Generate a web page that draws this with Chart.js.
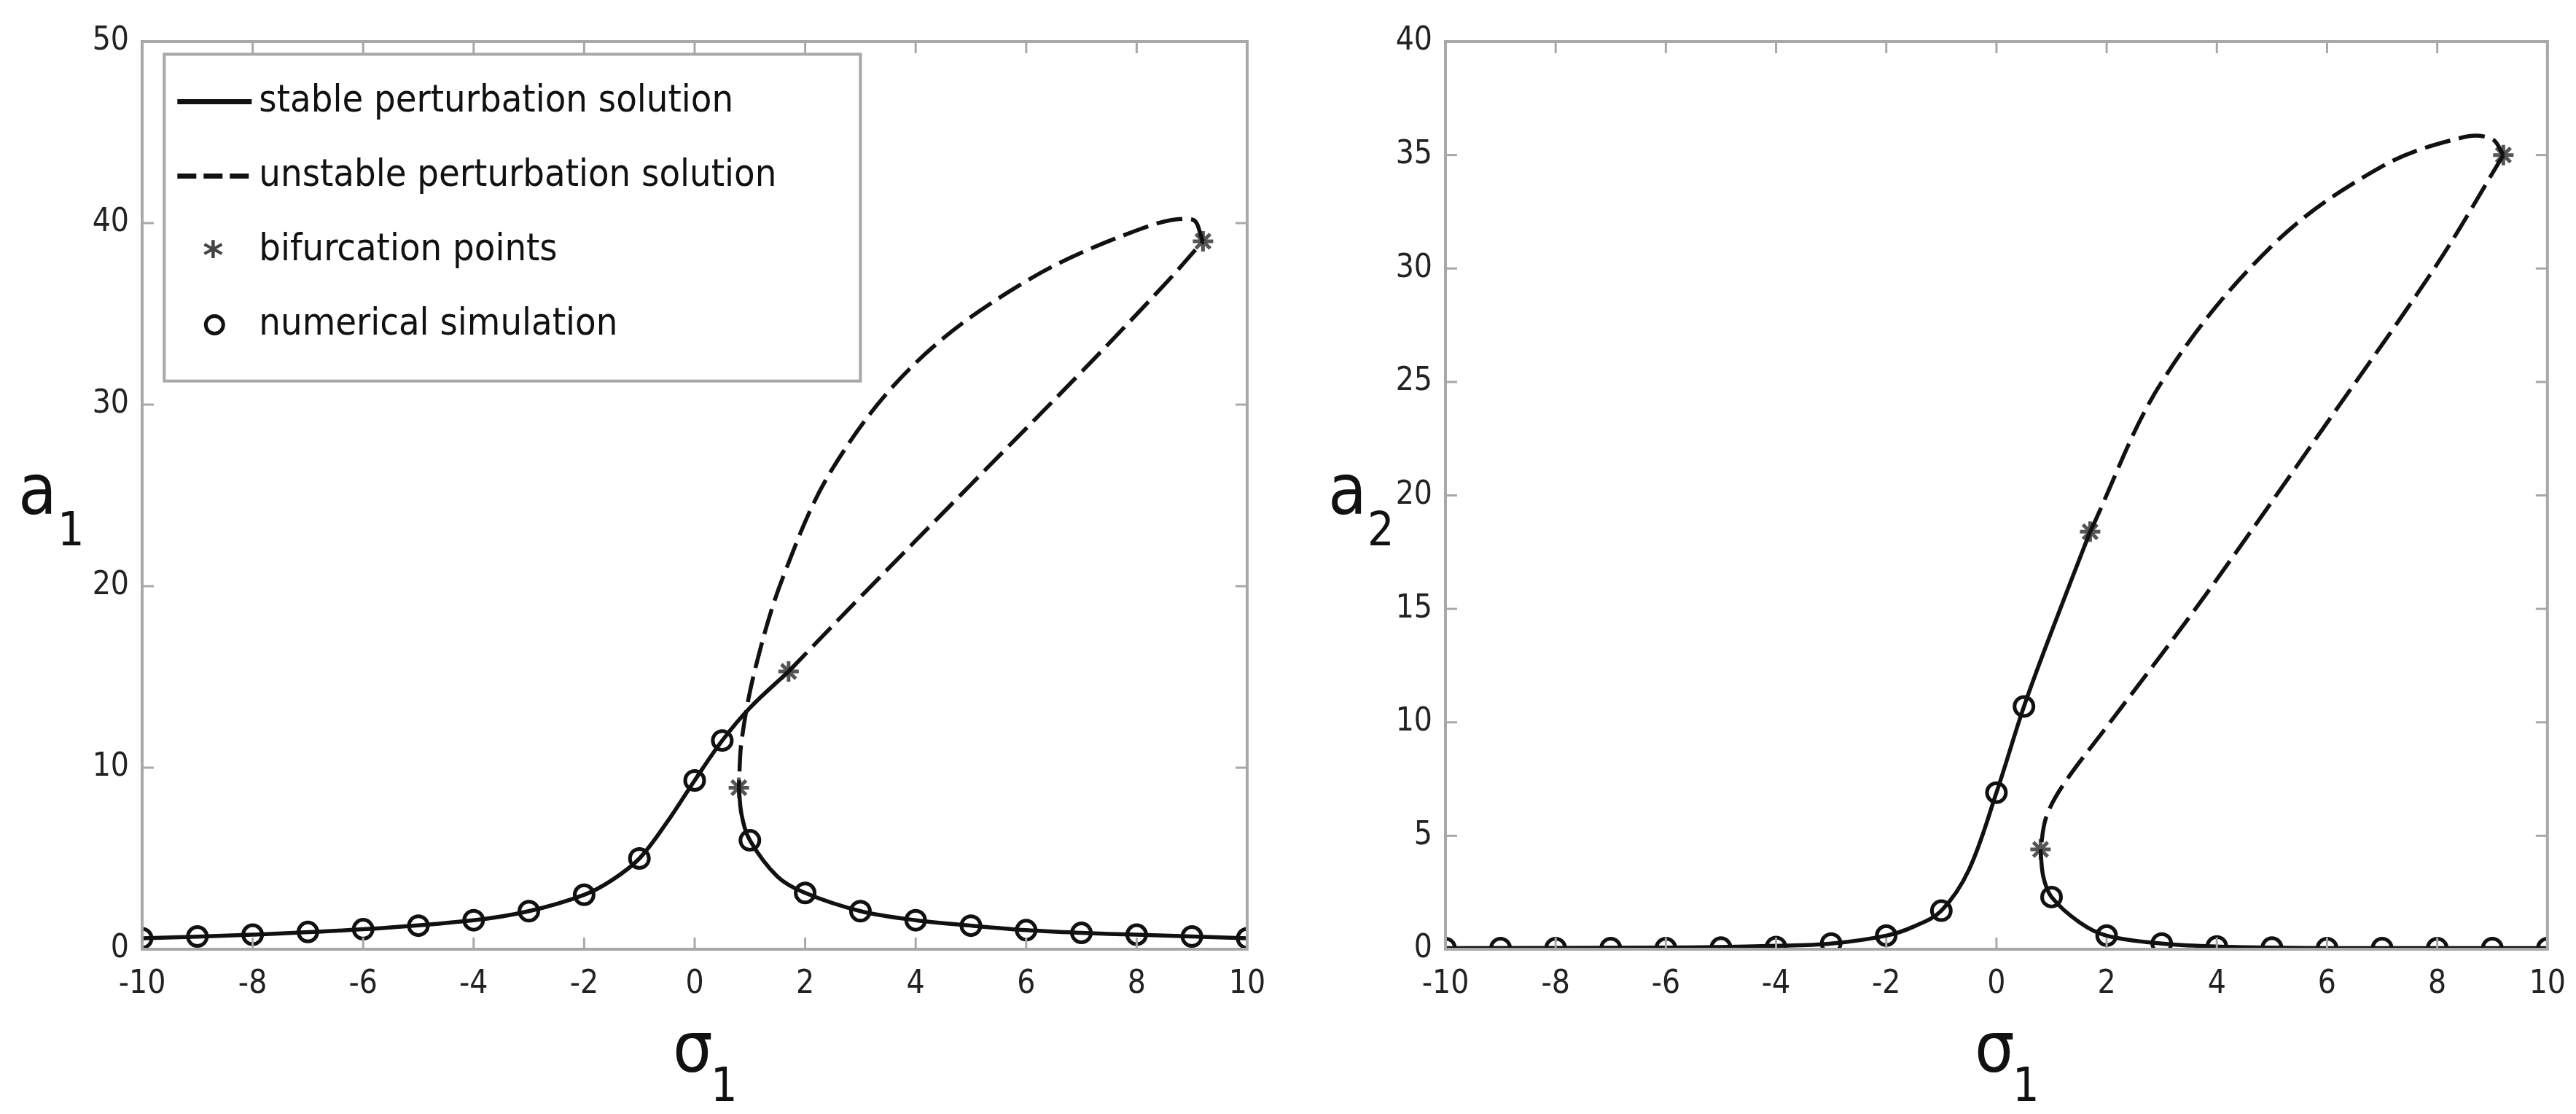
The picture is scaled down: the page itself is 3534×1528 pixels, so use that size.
<!DOCTYPE html>
<html><head><meta charset="utf-8">
<script src="https://cdn.jsdelivr.net/npm/chart.js@4"></script>
<style>
body{margin:0;background:#fff}
#wrap{width:3534px;height:1528px;display:flex}
.box{width:1767px;height:1528px;position:relative}
</style></head><body>
<div id="wrap"><div class="box"><canvas id="c1"></canvas></div><div class="box"><canvas id="c2"></canvas></div></div>
<script>
// ---- data ----
var xTicks = [-10,-8,-6,-4,-2,0,2,4,6,8,10];

// left panel (a1)
var a1_stableX1 = [-10,-8,-6,-4,-3,-2,-1.5,-1,-0.5,0,0.5,1.0,1.7];
var a1_stableY1 = [0.6,0.8,1.1,1.6,2.1,3.0,3.8,5.0,7.0,9.3,11.5,13.3,15.3];
var a1_unstX1 = [1.7,3,5,7,8.5,9.2];
var a1_unstY1 = [15.3,19.4,25.6,31.8,36.6,39.0];
var a1_unstX2 = [9.2,9.0,8,6,4,2.5,1.6,1.1,0.85,0.8];
var a1_unstY2 = [39.0,40.2,39.6,36.8,32.3,26.5,20.5,15.5,11.5,8.9];
var a1_stableX2 = [0.8,0.85,1,1.5,2,3,4,5,6,7,8,9,10];
var a1_stableY2 = [8.9,7.4,6.0,4.0,3.1,2.1,1.6,1.3,1.05,0.9,0.8,0.7,0.6];
var a1_circX = [-10,-9,-8,-7,-6,-5,-4,-3,-2,-1,0,0.5,1,2,3,4,5,6,7,8,9,10];
var a1_circY = [0.6,0.7,0.8,0.95,1.1,1.3,1.6,2.1,3.0,5.0,9.3,11.5,6.0,3.1,2.1,1.6,1.3,1.05,0.9,0.8,0.7,0.6];
var a1_starX = [0.8,1.7,9.2];
var a1_starY = [8.9,15.3,39.0];

// right panel (a2)
var a2_stableX1 = [-10,-6,-4,-3,-2,-1.5,-1,-0.5,0,0.5,1,1.7];
var a2_stableY1 = [0.05,0.07,0.15,0.25,0.6,1.0,1.7,3.5,6.9,10.7,14.0,18.4];
var a2_unstX1 = [1.7,3,5,7,8.5,9.0,9.2];
var a2_unstY1 = [18.4,25.0,31.0,34.5,35.8,35.7,35.0];
var a2_unstX2 = [9.2,8,6,4,3,2,1.2,0.9,0.8];
var a2_unstY2 = [35.0,30.2,23.2,16.3,13.0,9.8,7.2,5.8,4.4];
var a2_stableX2 = [0.8,0.85,1,1.5,2,3,4,5,6,8,10];
var a2_stableY2 = [4.4,3.2,2.3,1.2,0.6,0.25,0.12,0.07,0.05,0.05,0.05];
var a2_circX = [-10,-9,-8,-7,-6,-5,-4,-3,-2,-1,0,0.5,1,2,3,4,5,6,7,8,9,10];
var a2_circY = [0.05,0.05,0.05,0.05,0.05,0.07,0.1,0.25,0.6,1.7,6.9,10.7,2.3,0.6,0.25,0.12,0.07,0.05,0.05,0.05,0.05,0.05];
var a2_starX = [0.8,1.7,9.2];
var a2_starY = [4.4,18.4,35.0];

var FONT = '"DejaVu Sans Condensed", "Liberation Sans Narrow", sans-serif';

function pts(xs, ys){ return xs.map(function(x,i){ return {x:x, y:ys[i]}; }); }

function lineSet(xs, ys, dashed){
  return {data:pts(xs,ys), showLine:true, borderColor:'#111', borderWidth:5.5,
    borderDash: dashed ? [36,12] : [], pointRadius:0, tension:0.35, fill:false};
}

// box, ticks, upright axis labels, optional legend
var framePlugin = {
  id:'frame',
  afterDraw:function(chart, args, opts){
    var c = chart.ctx, a = chart.chartArea;
    c.save();
    c.strokeStyle = '#a8a8a8'; c.lineWidth = 4;
    c.strokeRect(a.left, a.top, a.right-a.left, a.bottom-a.top);
    var xs = chart.scales.x, ys = chart.scales.y;
    c.lineWidth = 3;
    xTicks.forEach(function(v){
      var px = xs.getPixelForValue(v);
      c.beginPath(); c.moveTo(px,a.bottom); c.lineTo(px,a.bottom-16); c.stroke();
      c.beginPath(); c.moveTo(px,a.top); c.lineTo(px,a.top+16); c.stroke();
    });
    ys.ticks.forEach(function(t){
      var py = ys.getPixelForValue(t.value);
      c.beginPath(); c.moveTo(a.left,py); c.lineTo(a.left+16,py); c.stroke();
      c.beginPath(); c.moveTo(a.right,py); c.lineTo(a.right-16,py); c.stroke();
    });
    c.fillStyle = '#111';
    c.textAlign = 'left'; c.textBaseline = 'alphabetic';
    // y label
    c.font = '96px ' + FONT;
    c.fillText('a', opts.labelX, 705);
    c.font = '64px ' + FONT;
    c.fillText(opts.sub, opts.labelX+54, 748);
    // x label
    var cx = (a.left + a.right)/2 - 30;
    c.font = '96px ' + FONT;
    c.fillText('σ', cx, 1470);
    c.font = '64px ' + FONT;
    c.fillText('1', cx+52, 1510);
    if (opts.legend){
      var L = xs.getPixelForValue(-9.6), R = xs.getPixelForValue(3.0);
      var T = ys.getPixelForValue(49.3), B = ys.getPixelForValue(31.3);
      c.fillStyle = '#fff'; c.fillRect(L,T,R-L,B-T);
      c.strokeStyle = '#a8a8a8'; c.lineWidth = 4; c.strokeRect(L,T,R-L,B-T);
      var items = ['stable perturbation solution','unstable perturbation solution','bifurcation points','numerical simulation'];
      c.textBaseline = 'middle';
      items.forEach(function(t,i){
        var y = T + 65 + i*102, x0 = L+18, x1 = L+120;
        c.strokeStyle = '#111'; c.lineWidth = 7;
        if (i===0){ c.setLineDash([]); c.beginPath(); c.moveTo(x0,y); c.lineTo(x1,y); c.stroke(); }
        if (i===1){ c.setLineDash([26,10]); c.beginPath(); c.moveTo(x0,y); c.lineTo(x1,y); c.stroke(); c.setLineDash([]); }
        if (i===2){ c.fillStyle='#444'; c.font='bold 54px DejaVu Sans'; c.fillText('*', (x0+x1)/2-16, y+12); }
        if (i===3){ c.lineWidth=5; c.fillStyle='#fff'; c.beginPath(); c.arc((x0+x1)/2,y,12,0,Math.PI*2); c.fill(); c.stroke(); }
        c.font = '52px ' + FONT;
        c.fillStyle = '#111'; c.fillText(t, x1+10, y);
      });
    }
    c.restore();
  }
};

function makeChart(id, d, yMax, yStep, leftW, rightPad, labelX, sub, legend){
  return new Chart(document.getElementById(id), {
    type:'scatter',
    data:{datasets:[
      lineSet(d.s1x,d.s1y,false),
      lineSet(d.u1x,d.u1y,true),
      lineSet(d.u2x,d.u2y,true),
      lineSet(d.s2x,d.s2y,false),
      {data:pts(d.cx,d.cy), pointRadius:13, pointBorderWidth:5, pointBorderColor:'#111', pointBackgroundColor:'#fff'},
      {data:pts(d.sx,d.sy), pointStyle:'star', pointRadius:14, pointBorderWidth:5, pointBorderColor:'#555'}
    ]},
    options:{
      responsive:false, animation:false, devicePixelRatio:1,
      layout:{padding:{top:57, right:rightPad, left:0, bottom:0}},
      plugins:{legend:{display:false}, tooltip:{enabled:false}, frame:{labelX:labelX, sub:sub, legend:legend}},
      scales:{
        x:{type:'linear', min:-10, max:10,
          afterBuildTicks:function(s){ s.ticks = xTicks.map(function(v){return {value:v};}); },
          afterFit:function(s){ s.height = 226; },
          grid:{display:false}, border:{display:false},
          ticks:{color:'#222', font:{size:44, family:FONT}, padding:14, maxRotation:0}},
        y:{type:'linear', min:0, max:yMax,
          afterFit:function(s){ s.width = leftW; },
          grid:{display:false}, border:{display:false},
          ticks:{stepSize:yStep, color:'#222', font:{size:44, family:FONT}, padding:10}}
      }
    },
    plugins:[framePlugin]
  });
}

var c1 = document.getElementById('c1'); c1.width = 1767; c1.height = 1528;
var c2 = document.getElementById('c2'); c2.width = 1767; c2.height = 1528;

makeChart('c1', {s1x:a1_stableX1,s1y:a1_stableY1,u1x:a1_unstX1,u1y:a1_unstY1,u2x:a1_unstX2,u2y:a1_unstY2,
  s2x:a1_stableX2,s2y:a1_stableY2,cx:a1_circX,cy:a1_circY,sx:a1_starX,sy:a1_starY}, 50, 10, 195, 56, 25, '1', true);
makeChart('c2', {s1x:a2_stableX1,s1y:a2_stableY1,u1x:a2_unstX1,u1y:a2_unstY1,u2x:a2_unstX2,u2y:a2_unstY2,
  s2x:a2_stableX2,s2y:a2_stableY2,cx:a2_circX,cy:a2_circY,sx:a2_starX,sy:a2_starY}, 40, 5, 216, 38, 55, '2', false);
</script>
</body></html>
